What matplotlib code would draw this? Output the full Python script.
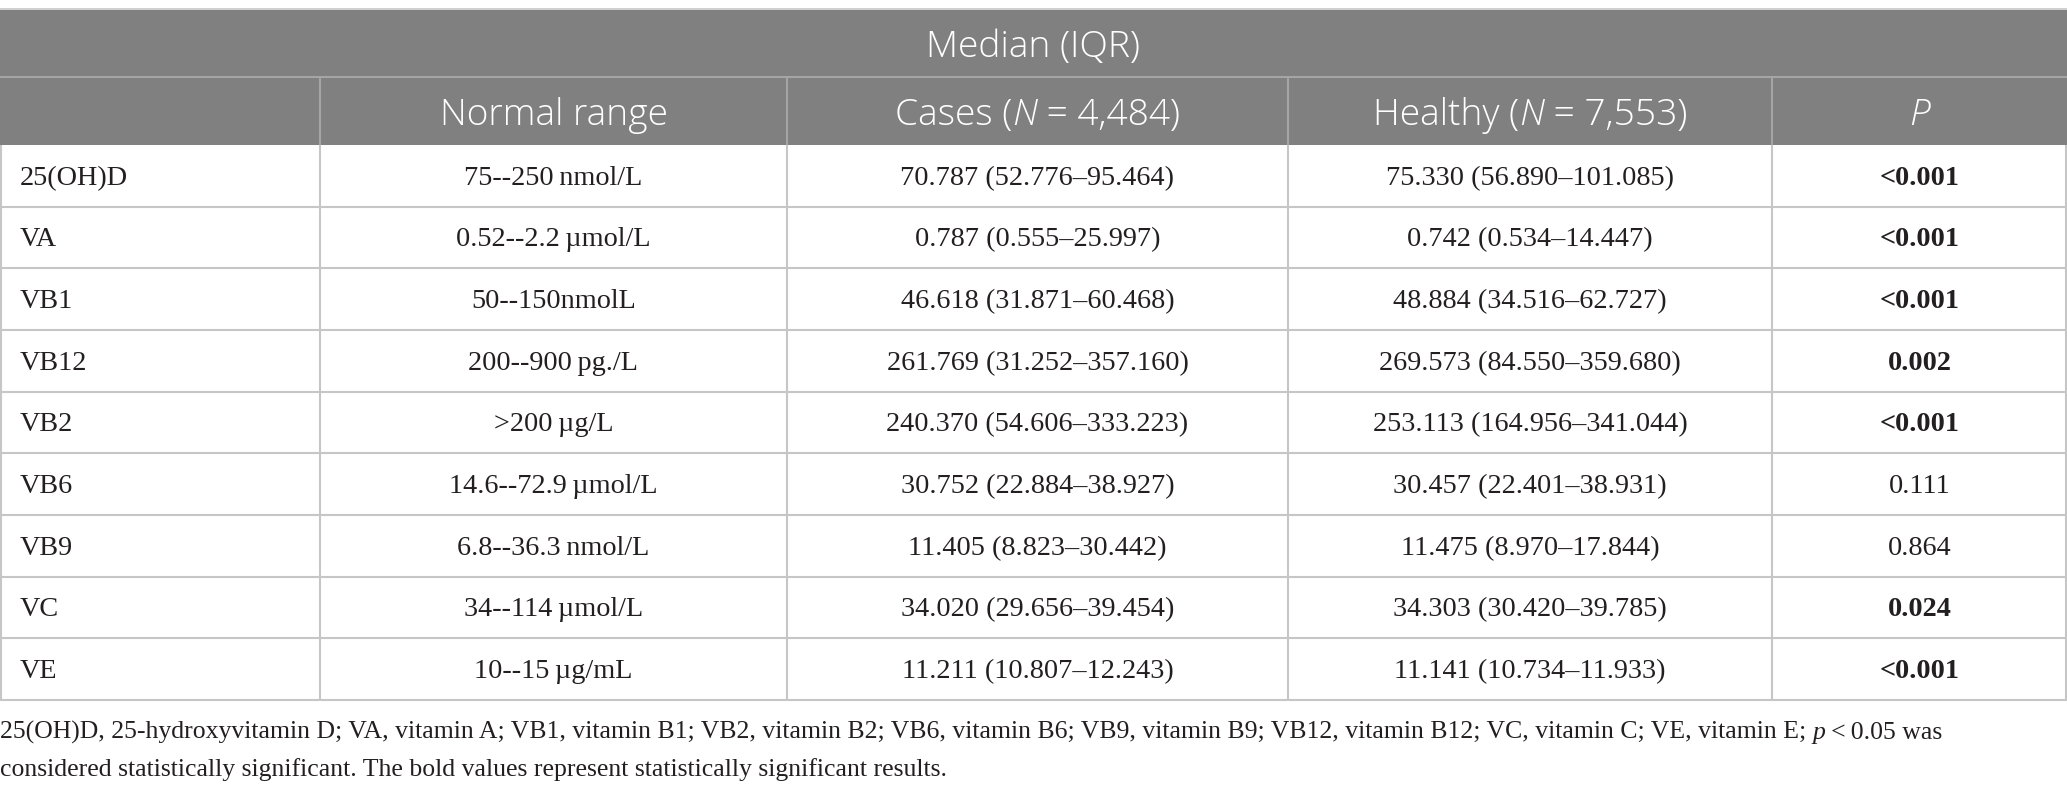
import matplotlib
matplotlib.use("Agg")
import matplotlib.pyplot as plt
from matplotlib.patches import Rectangle

# ---- table data ----
vitamins = ["25(OH)D", "VA", "VB1", "VB12", "VB2", "VB6", "VB9", "VC", "VE"]
normal_range = ["75--250\u2009nmol/L", "0.52--2.2\u2009\u00b5mol/L", "50--150nmolL",
                "200--900\u2009pg./L", ">200\u2009\u00b5g/L", "14.6--72.9\u2009\u00b5mol/L",
                "6.8--36.3\u2009nmol/L", "34--114\u2009\u00b5mol/L", "10--15\u2009\u00b5g/mL"]
cases_median = [70.787, 0.787, 46.618, 261.769, 240.370, 30.752, 11.405, 34.020, 11.211]
cases_q1 = [52.776, 0.555, 31.871, 31.252, 54.606, 22.884, 8.823, 29.656, 10.807]
cases_q3 = [95.464, 25.997, 60.468, 357.160, 333.223, 38.927, 30.442, 39.454, 12.243]
healthy_median = [75.330, 0.742, 48.884, 269.573, 253.113, 30.457, 11.475, 34.303, 11.141]
healthy_q1 = [56.890, 0.534, 34.516, 84.550, 164.956, 22.401, 8.970, 30.420, 10.734]
healthy_q3 = [101.085, 14.447, 62.727, 359.680, 341.044, 38.931, 17.844, 39.785, 11.933]
p_text = ["<0.001", "<0.001", "<0.001", "0.002", "<0.001", "0.111", "0.864", "0.024", "<0.001"]
p_bold = [True, True, True, True, True, False, False, True, True]

top_header = "Median (IQR)"
col_headers = [
    [("", "normal")],
    [("Normal range", "normal")],
    [("Cases (", "normal"), ("N", "italic"), (" = 4,484)", "normal")],
    [("Healthy (", "normal"), ("N", "italic"), (" = 7,553)", "normal")],
    [("P", "italic")],
]
footnote_1 = [("25(OH)D, 25-hydroxyvitamin D; VA, vitamin A; VB1, vitamin B1; VB2, vitamin B2; "
               "VB6, vitamin B6; VB9, vitamin B9; VB12, vitamin B12; VC, vitamin C; VE, vitamin E; ",
               "normal"), ("p", "italic"), ("\u2009<\u20090.05 was", "normal")]
footnote_2 = [("considered statistically significant. The bold values represent statistically "
               "significant results.", "normal")]

# ---- layout (pixels) ----
W, H = 2067, 795
col_x = [0, 320, 787, 1288, 1772, 2067]
top = 10
h1_bottom = 77
h2_bottom = 145
row_h = (700 - h2_bottom) / len(vitamins)

HEAD_BG = "#808080"
HEAD_LINE = "#a5a5a5"
GRID = "#c6c6c6"
TXT = "#231f20"
SERIF = ["Liberation Serif", "DejaVu Serif"]
SANS = ["Open Sans", "DejaVu Sans"]

fig = plt.figure(figsize=(W / 100, H / 100), dpi=100)
ax = fig.add_axes([0, 0, 1, 1])
ax.set_xlim(0, W)
ax.set_ylim(H, 0)
ax.axis("off")
renderer = fig.canvas.get_renderer()


def seg_width(s, **kw):
    t1 = ax.text(0, 0, "|" + s + "|", **kw)
    t2 = ax.text(0, 0, "||", **kw)
    w = t1.get_window_extent(renderer).width - t2.get_window_extent(renderer).width
    t1.remove()
    t2.remove()
    return w


def draw_segments(x, y, segs, ha="center", **kw):
    widths = [seg_width(s, style=st, **kw) for s, st in segs]
    start = x - sum(widths) / 2 if ha == "center" else x
    for (s, st), w in zip(segs, widths):
        ax.text(start, y, s, style=st, ha="left", va="baseline", **kw)
        start += w


# header background
ax.add_patch(Rectangle((0, top), W, h2_bottom - top, color=HEAD_BG, lw=0))
ax.hlines(top - 1, 0, W, color=GRID, lw=1.2)
ax.hlines(h1_bottom, 0, W, color=HEAD_LINE, lw=1.5)
ax.vlines(col_x[1:-1], h1_bottom, h2_bottom, color=HEAD_LINE, lw=1.5)

head_kw = dict(family=SANS, fontsize=26.7, fontweight=300, color="white")
draw_segments(W / 2, 57, [(top_header, "normal")], **head_kw)
for i, segs in enumerate(col_headers):
    cx = (col_x[i] + col_x[i + 1]) / 2
    if segs[0][0]:
        draw_segments(cx, 125, segs, **head_kw)

# body grid
row_edges = [h2_bottom + k * row_h for k in range(len(vitamins) + 1)]
ax.hlines(row_edges[1:], 0, W, color=GRID, lw=1.5)
ax.vlines(col_x[1:-1], h2_bottom, row_edges[-1], color=GRID, lw=1.5)
ax.vlines([0.8, W - 0.8], h2_bottom, row_edges[-1], color=GRID, lw=1.5)

body_kw = dict(family=SERIF, fontsize=20.3, color=TXT)
for i, name in enumerate(vitamins):
    yb = row_edges[i] + row_h / 2 + 9
    ax.text(20, yb, name, ha="left", va="baseline", **body_kw)
    cells = [
        normal_range[i],
        f"{cases_median[i]:.3f} ({cases_q1[i]:.3f}\u2013{cases_q3[i]:.3f})",
        f"{healthy_median[i]:.3f} ({healthy_q1[i]:.3f}\u2013{healthy_q3[i]:.3f})",
    ]
    for j, cell in enumerate(cells):
        cx = (col_x[j + 1] + col_x[j + 2]) / 2
        ax.text(cx, yb, cell, ha="center", va="baseline", **body_kw)
    ax.text((col_x[4] + col_x[5]) / 2, yb, p_text[i], ha="center", va="baseline",
            fontweight="bold" if p_bold[i] else "normal", **body_kw)

# footnote
foot_kw = dict(family=SERIF, fontsize=18.5, color=TXT)
draw_segments(0, 739, footnote_1, ha="left", **foot_kw)
draw_segments(0, 776, footnote_2, ha="left", **foot_kw)

fig.savefig("out.png", dpi=100)
